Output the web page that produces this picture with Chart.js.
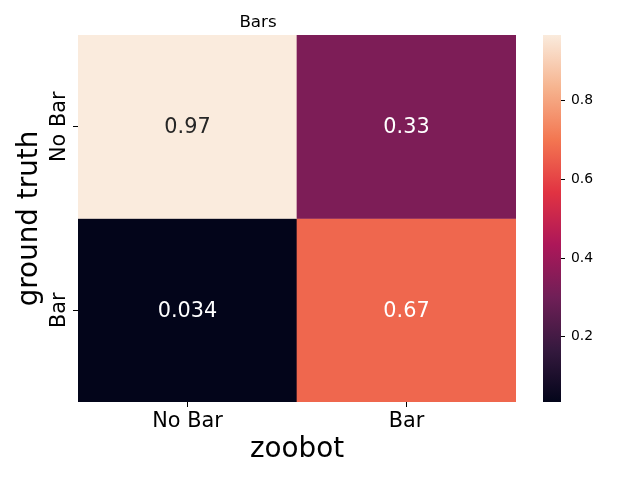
<!DOCTYPE html>
<html>
<head>
<meta charset="utf-8">
<script src="https://cdn.jsdelivr.net/npm/chart.js@4.4.1/dist/chart.umd.min.js"></script>
<style>
  body { margin: 0; background: #fff; }
  #wrap { position: relative; width: 640px; height: 480px; }
  #heat { position: absolute; left: 0; top: 0; }
  #cbar { position: absolute; left: 530px; top: 0; }
</style>
</head>
<body>
<div id="wrap">
  <canvas id="heat" width="640" height="480"></canvas>
  <canvas id="cbar" width="110" height="480"></canvas>
</div>
<script>
// data
const chartTitle = 'Bars';
const predLabels = ['No Bar', 'Bar'];   // columns (zoobot)
const trueLabels = ['No Bar', 'Bar'];   // rows (ground truth), top to bottom
const rowNoBar = [0.967, 0.33];
const rowBar = [0.034, 0.67];
const cbarTicks = [0.2, 0.4, 0.6, 0.8];

// seaborn "rocket" colormap, sampled
const rocketStops = [
  [0.0, '#03051A'], [0.143, '#35193E'], [0.286, '#701F57'], [0.429, '#AD1759'],
  [0.571, '#E13342'], [0.714, '#F37651'], [0.857, '#F6B48F'], [1.0, '#FAEBDD']
];

const hexToRgb = h => [1, 3, 5].map(i => parseInt(h.slice(i, i + 2), 16));

function rocketRgb(t) {
  t = Math.max(0, Math.min(1, t));
  for (let i = 1; i < rocketStops.length; i++) {
    const [p1, c1] = rocketStops[i];
    if (t <= p1) {
      const [p0, c0] = rocketStops[i - 1];
      const f = (t - p0) / (p1 - p0);
      const a = hexToRgb(c0), b = hexToRgb(c1);
      return a.map((v, k) => Math.round(v + f * (b[k] - v)));
    }
  }
  return hexToRgb(rocketStops[rocketStops.length - 1][1]);
}
const rgbStr = c => `rgb(${c[0]},${c[1]},${c[2]})`;

function luminance(c) {
  const l = c.map(v => {
    v /= 255;
    return v <= 0.03928 ? v / 12.92 : Math.pow((v + 0.055) / 1.055, 2.4);
  });
  return 0.2126 * l[0] + 0.7152 * l[1] + 0.0722 * l[2];
}

Chart.defaults.font.family = '"DejaVu Sans", sans-serif';
Chart.defaults.color = '#000';

const rows = [rowNoBar, rowBar];
const nRows = rows.length;
const allVals = rows.flat();
const vmin = Math.min(...allVals);
const vmax = Math.max(...allVals);
const norm = v => (v - vmin) / (vmax - vmin);

// one dataset per row, each cell a floating bar spanning its row
const datasets = rows.map((vals, r) => ({
  data: vals.map(() => [nRows - r - 1, nRows - r]),
  values: vals,
  backgroundColor: vals.map(v => rgbStr(rocketRgb(norm(v)))),
  borderWidth: 0,
  grouped: false,
  barPercentage: 1,
  categoryPercentage: 1
}));

// cell annotations + rotated y tick labels
const heatText = {
  id: 'heatText',
  afterDatasetsDraw(chart) {
    const ctx = chart.ctx;
    ctx.save();
    ctx.textAlign = 'center';
    ctx.textBaseline = 'middle';
    ctx.font = '20.8px "DejaVu Sans"';
    chart.data.datasets.forEach((ds, di) => {
      chart.getDatasetMeta(di).data.forEach((el, i) => {
        const v = ds.values[i];
        const { x, y } = el.getCenterPoint();
        ctx.fillStyle = luminance(rocketRgb(norm(v))) > 0.408 ? '#262626' : '#fff';
        ctx.fillText(v.toPrecision(2), x, y + 1);
      });
    });
    ctx.restore();
  },
  afterDraw(chart) {
    const ys = chart.scales.y;
    const ctx = chart.ctx;
    ctx.save();
    ctx.font = '20.8px "DejaVu Sans"';
    ctx.fillStyle = '#000';
    ctx.textAlign = 'center';
    ctx.textBaseline = 'alphabetic';
    ys.ticks.forEach(t => {
      const label = trueLabels[nRows - 1 - Math.floor(t.value)];
      ctx.save();
      ctx.translate(ys.right - 13, ys.getPixelForValue(t.value));
      ctx.rotate(-Math.PI / 2);
      ctx.fillText(label, 0, 0);
      ctx.restore();
    });
    ctx.restore();
  }
};

new Chart(document.getElementById('heat').getContext('2d'), {
  type: 'bar',
  data: { labels: predLabels, datasets },
  options: {
    responsive: false,
    animation: false,
    layout: { padding: { right: 124 } },
    plugins: {
      legend: { display: false },
      tooltip: { enabled: false },
      title: {
        display: true,
        text: chartTitle,
        color: '#000',
        font: { size: 16.7, weight: 'normal' },
        padding: { top: 13, bottom: 2 }
      }
    },
    scales: {
      x: {
        type: 'category',
        grid: { drawOnChartArea: false, offset: false, tickLength: 5, color: '#000', lineWidth: 1 },
        border: { display: false },
        ticks: { color: '#000', font: { size: 20.8 }, padding: 2 },
        title: {
          display: true, text: 'zoobot', color: '#000',
          font: { size: 27.8, lineHeight: 1 }, padding: { top: 0, bottom: 16 }
        },
        afterFit: s => { s.height = 78; }
      },
      y: {
        type: 'linear',
        min: 0,
        max: nRows,
        afterBuildTicks: s => { s.ticks = trueLabels.map((_, r) => ({ value: nRows - r - 0.5 })); },
        grid: { drawOnChartArea: false, tickLength: 5, color: '#000', lineWidth: 1 },
        border: { display: false },
        ticks: { display: false },
        title: {
          display: true, text: 'ground truth', color: '#000',
          font: { size: 27.8, lineHeight: 1 }, padding: { top: 16, bottom: 0 }
        },
        afterFit: s => { s.width = 78; }
      }
    }
  },
  plugins: [heatText]
});

// colorbar
function cbarFill(c) {
  const chart = c.chart;
  if (!chart.chartArea) return null;
  const ys = chart.scales.y;
  const y0 = ys.getPixelForValue(vmin), y1 = ys.getPixelForValue(vmax);
  const g = chart.ctx.createLinearGradient(0, y0, 0, y1);
  rocketStops.forEach(([p, col]) => g.addColorStop(p, col));
  return g;
}

new Chart(document.getElementById('cbar').getContext('2d'), {
  type: 'bar',
  data: {
    labels: [''],
    datasets: [{
      data: [[vmin, vmax]],
      backgroundColor: cbarFill,
      borderWidth: 0,
      barPercentage: 1,
      categoryPercentage: 1
    }]
  },
  options: {
    responsive: false,
    animation: false,
    layout: { padding: { left: 13, top: 35, bottom: 78 } },
    plugins: { legend: { display: false }, tooltip: { enabled: false } },
    scales: {
      x: { display: false },
      y: {
        position: 'right',
        min: vmin,
        max: vmax,
        afterBuildTicks: s => { s.ticks = cbarTicks.map(v => ({ value: v })); },
        grid: { drawOnChartArea: false, tickLength: 4, color: '#000', lineWidth: 1 },
        border: { display: false },
        ticks: { color: '#000', font: { size: 13.9 }, padding: 6, callback: v => v.toFixed(1) },
        afterFit: s => { s.width = 79; }
      }
    }
  }
});
</script>
</body>
</html>
